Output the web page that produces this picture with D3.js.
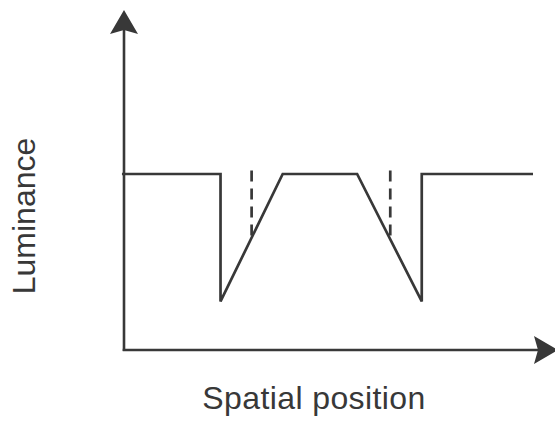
<!DOCTYPE html>
<html>
<head>
<meta charset="utf-8">
<script src="https://cdn.jsdelivr.net/npm/d3@7"></script>
<style>
  html, body { margin: 0; padding: 0; background: #fff; }
  svg { display: block; }
</style>
</head>
<body>
<svg id="chart" width="555" height="423"></svg>
<script>
// Luminance profile (abstract units)
const positions = [-0.5, 23.6, 23.6, 38.8, 57.0, 72.8, 72.8, 100];
const luminance = [10, 10, 2.76, 10, 10, 2.76, 10, 10];
// Dashed reference lines (position, top, bottom)
const dashPositions = [31.2, 65.1];
const dashTop = 10.2;
const dashBottom = 6.5;
const xLabel = "Spatial position";
const yLabel = "Luminance";

const color = "#383838";
const svg = d3.select("#chart");
const x = d3.scaleLinear().domain([0, 100]).range([124, 533]);
const y = d3.scaleLinear().domain([0, 10]).range([350, 174]);

// Axes
const x0 = x(0), y0 = y(0);
svg.append("line").attr("x1", x0).attr("y1", y0 + 1).attr("x2", x0).attr("y2", 30)
  .attr("stroke", color).attr("stroke-width", 2.6);
svg.append("line").attr("x1", x0 - 1.3).attr("y1", y0).attr("x2", 540).attr("y2", y0)
  .attr("stroke", color).attr("stroke-width", 2.6);

// Arrow heads (stealth style)
function arrow(tipX, tipY, dir) {
  const len = 24, half = 14, notch = 20;
  let pts;
  if (dir === "up") {
    pts = [[tipX, tipY], [tipX + half, tipY + len], [tipX, tipY + notch], [tipX - half, tipY + len]];
  } else {
    pts = [[tipX, tipY], [tipX - len, tipY - half], [tipX - notch, tipY], [tipX - len, tipY + half]];
  }
  svg.append("path").attr("d", "M" + pts.map(p => p.join(",")).join("L") + "Z")
    .attr("fill", color);
}
arrow(x0, 10, "up");
arrow(558, y0, "right");

// Profile line
const pts = positions.map((p, i) => [p, luminance[i]]);
svg.append("path")
  .attr("d", d3.line().x(d => x(d[0])).y(d => y(d[1]))(pts))
  .attr("fill", "none").attr("stroke", color).attr("stroke-width", 2.7)
  .attr("stroke-linejoin", "miter").attr("stroke-linecap", "butt");

// Dashed lines
svg.selectAll("line.dash").data(dashPositions).enter().append("line")
  .attr("class", "dash")
  .attr("x1", d => x(d)).attr("x2", d => x(d))
  .attr("y1", y(dashTop)).attr("y2", y(dashBottom))
  .attr("stroke", color).attr("stroke-width", 2.7)
  .attr("stroke-dasharray", "11,7");

// Labels
svg.append("text").attr("x", 314).attr("y", 409)
  .attr("text-anchor", "middle")
  .attr("font-family", "Liberation Sans, Arial, sans-serif")
  .attr("font-size", 32).attr("letter-spacing", 0.4).attr("fill", color).text(xLabel);
svg.append("text")
  .attr("transform", "translate(35,216) rotate(-90)")
  .attr("text-anchor", "middle")
  .attr("font-family", "Liberation Sans, Arial, sans-serif")
  .attr("font-size", 32).attr("fill", color).text(yLabel);
</script>
</body>
</html>
